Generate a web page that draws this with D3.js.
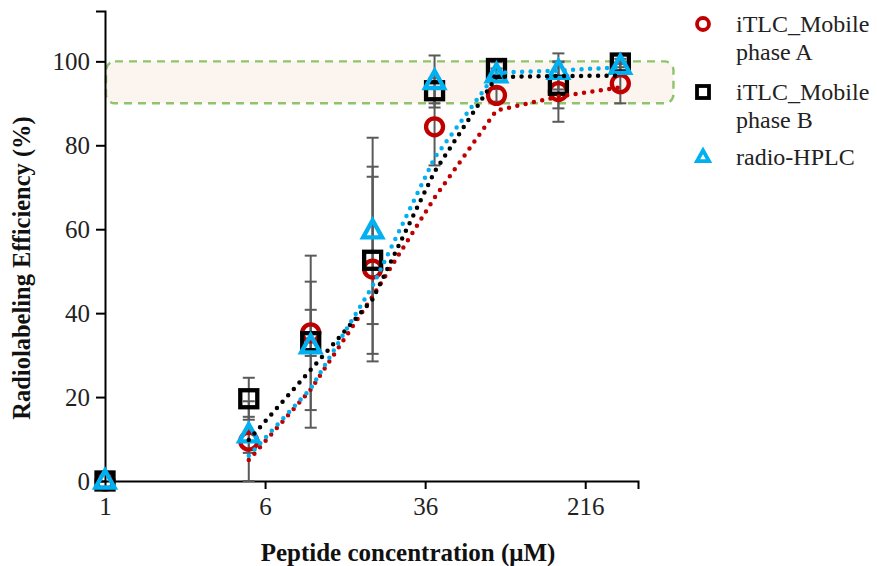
<!DOCTYPE html>
<html>
<head>
<meta charset="utf-8">
<script src="https://cdn.jsdelivr.net/npm/d3@7"></script>
<style>
    body { margin: 0; background: #fff; }
    svg, svg text { font-family: "Liberation Serif", serif; }
</style>
</head>
<body>
<svg width="877" height="566"></svg>
<script>
//Data
const concentrations = [1, 5, 10, 20, 40, 80, 160, 320];
const mobileA    = [0, 9.5, 35.3, 50.5, 84.4, 91.9, 92.8, 94.7];
const mobileAErr = [0, 9.5, 5.5, 22, 9.2, 1.5, 7.2, 4.7];
const mobileB    = [0, 19.6, 33.2, 52.6, 93, 98.3, 94.3, 99.6];
const mobileBErr = [0, 5, 20.5, 22.3, 3, 1.5, 5.5, 1];
const hplc       = [0, 11, 32.2, 59.6, 95.2, 96.8, 97.6, 98.8];
const hplcErr    = [0, 4.3, 15.3, 22.2, 6.2, 1.5, 4.3, 1];

//fitted (dotted) curves
const fitX = [5, 10, 20, 40, 80, 160, 320];
const fitA = [5, 21.8, 44, 67.5, 88.3, 91.6, 93.8];
const fitB = [9.8, 26.5, 43.3, 73.7, 96.3, 96.5, 96.6];
const fitC = [6, 22, 46.5, 77, 97.3, 97.8, 98.6];

const xTicks = [1, 6, 36, 216];
const yTicks = [0, 20, 40, 60, 80, 100];
const targetBand = [90, 100];   //acceptance zone
const bandEnd = 580;

const seriesNames = [['iTLC_Mobile', 'phase A'], ['iTLC_Mobile', 'phase B'], ['radio-HPLC']];

const red = '#c00000', black = '#000000', blue = '#00b0f0', grey = '#5a5a5a';

const series = [
    { values: mobileA, err: mobileAErr, fit: fitA, color: red, shape: 'circle' },
    { values: mobileB, err: mobileBErr, fit: fitB, color: black, shape: 'square' },
    { values: hplc, err: hplcErr, fit: fitC, color: blue, shape: 'triangle' }
];

const svg = d3.select('svg');

//Scales
const xScale = d3.scaleLog().base(6)
    .domain([1, 390])
    .range([105, 638]);
const yScale = d3.scaleLinear()
    .domain([0, 112])
    .range([481, 11]);

//Band 90-100%
svg.append('rect')
    .attr('x', xScale(1) + 1)
    .attr('y', yScale(targetBand[1]))
    .attr('width', xScale(bandEnd) - xScale(1) - 1)
    .attr('height', yScale(targetBand[0]) - yScale(targetBand[1]))
    .attr('rx', 9)
    .attr('fill', '#fcf5ef')
    .attr('stroke', '#8ec46b')
    .attr('stroke-width', 2.4)
    .attr('stroke-dasharray', '8 6');

//Axes
const xAxis = d3.axisBottom(xScale)
    .tickValues(xTicks)
    .tickFormat(d3.format('d'))
    .tickSize(8)
    .tickPadding(8);
const yAxis = d3.axisLeft(yScale)
    .tickValues(yTicks)
    .tickSize(9)
    .tickPadding(6);

const xAxisGroup = svg.append('g')
    .attr('transform', 'translate(0,' + yScale(0) + ')')
    .call(xAxis);
const yAxisGroup = svg.append('g')
    .attr('transform', 'translate(' + xScale(1) + ',0)')
    .call(yAxis);

[xAxisGroup, yAxisGroup].forEach(g => {
    g.attr('font-family', null).attr('font-size', null);
    g.select('.domain').attr('stroke', '#000').attr('stroke-width', 2);
    g.selectAll('.tick line').attr('stroke', '#000').attr('stroke-width', 2);
    g.selectAll('.tick text')
        .style('font-family', '"Liberation Serif", serif')
        .style('font-size', '25px')
        .attr('fill', '#222');
});
//no tick under the origin
xAxisGroup.selectAll('.tick').filter(d => d === 1).select('line').remove();

//Axis titles
svg.append('text')
    .attr('x', 408)
    .attr('y', 561)
    .attr('text-anchor', 'middle')
    .attr('font-weight', 'bold')
    .attr('font-size', 25)
    .attr('fill', '#111')
    .text('Peptide concentration (μM)');
svg.append('text')
    .attr('transform', 'translate(30,' + 268 + ') rotate(-90)')
    .attr('text-anchor', 'middle')
    .attr('font-weight', 'bold')
    .attr('font-size', 24.5)
    .attr('fill', '#111')
    .text('Radiolabeling Efficiency (%)');

//Error bars
const capW = 6;
series.forEach(s => {
    const g = svg.append('g').attr('stroke', grey).attr('stroke-width', 2);
    const rows = concentrations.map((c, i) => ({ c: c, v: s.values[i], e: s.err[i] })).filter(d => d.e > 0);
    g.selectAll('line.v').data(rows).join('line')
        .attr('class', 'v')
        .attr('x1', d => xScale(d.c)).attr('x2', d => xScale(d.c))
        .attr('y1', d => yScale(d.v - d.e)).attr('y2', d => yScale(d.v + d.e));
    g.selectAll('line.top').data(rows).join('line')
        .attr('class', 'top')
        .attr('x1', d => xScale(d.c) - capW).attr('x2', d => xScale(d.c) + capW)
        .attr('y1', d => yScale(d.v + d.e)).attr('y2', d => yScale(d.v + d.e));
    g.selectAll('line.bot').data(rows).join('line')
        .attr('class', 'bot')
        .attr('x1', d => xScale(d.c) - capW).attr('x2', d => xScale(d.c) + capW)
        .attr('y1', d => yScale(d.v - d.e)).attr('y2', d => yScale(d.v - d.e));
});

//Markers
function drawMarker(g, shape, color, size, sw) {
    if (shape === 'circle') {
        g.append('circle').attr('r', size / 2)
            .attr('fill', 'none').attr('stroke', color).attr('stroke-width', sw);
    } else if (shape === 'square') {
        g.append('rect').attr('x', -size / 2).attr('y', -size / 2)
            .attr('width', size).attr('height', size)
            .attr('fill', 'none').attr('stroke', color).attr('stroke-width', sw);
    } else {
        const h = size * 0.9;
        g.append('path')
            .attr('d', 'M0,' + (-h * 0.62) + 'L' + (size / 2) + ',' + (h * 0.38) + 'L' + (-size / 2) + ',' + (h * 0.38) + 'Z')
            .attr('fill', 'none').attr('stroke', color).attr('stroke-width', sw)
            .attr('stroke-linejoin', 'miter');
    }
}

series.forEach(s => {
    svg.append('g').selectAll('g')
        .data(concentrations.map((c, i) => ({ c: c, v: s.values[i] })))
        .join('g')
        .attr('transform', d => 'translate(' + xScale(d.c) + ',' + yScale(d.v) + ')')
        .each(function () { drawMarker(d3.select(this), s.shape, s.color, s.shape === 'triangle' ? 19 : 17, 4.3); });
});

//Dotted fit lines
const line = d3.line()
    .x(d => xScale(d.x))
    .y(d => yScale(d.y));
series.forEach(s => {
    svg.append('path')
        .attr('d', line(fitX.map((x, i) => ({ x: x, y: s.fit[i] }))))
        .attr('fill', 'none')
        .attr('stroke', s.color)
        .attr('stroke-width', 4.5)
        .attr('stroke-linecap', 'round')
        .attr('stroke-dasharray', '0 8.5');
});

//Legend
const legend = svg.append('g').attr('transform', 'translate(703,0)');
const legendY = [24, 92, 157];
seriesNames.forEach((lines, i) => {
    const item = legend.append('g').attr('transform', 'translate(0,' + legendY[i] + ')');
    drawMarker(item, series[i].shape, series[i].color, 12, 3.8);
    const t = item.append('text')
        .attr('x', 33)
        .attr('y', 8)
        .attr('font-size', 24)
        .attr('fill', '#222');
    lines.forEach((l, j) => {
        t.append('tspan').attr('x', 33).attr('dy', j === 0 ? 0 : 28).text(l);
    });
});
</script>
</body>
</html>
